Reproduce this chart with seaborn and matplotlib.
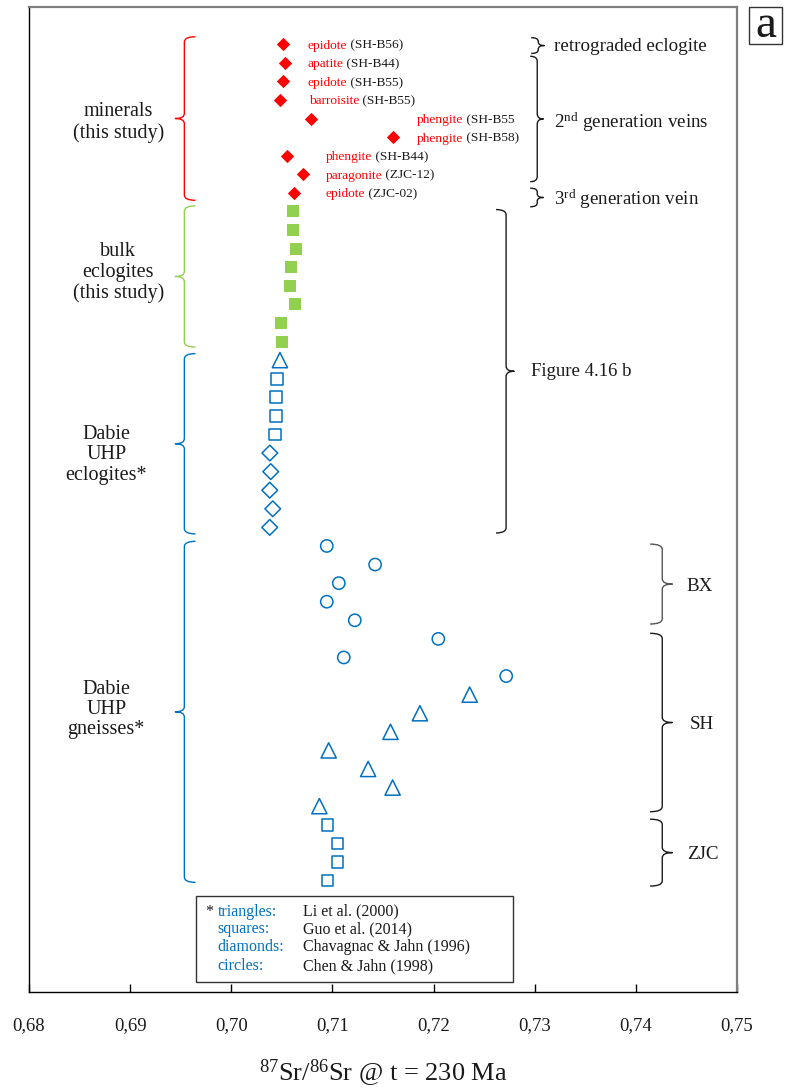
import numpy as np
import pandas as pd
import matplotlib
matplotlib.use("Agg")
import matplotlib.pyplot as plt
from matplotlib.path import Path
from matplotlib.patches import PathPatch, Rectangle
import seaborn as sns

# ---------------- data: 87Sr/86Sr (t = 230 Ma), listed top to bottom ----------------
mineral_names = ["epidote", "apatite", "epidote", "barroisite", "phengite",
                 "phengite", "phengite", "paragonite", "epidote"]
mineral_samples = ["(SH-B56)", "(SH-B44)", "(SH-B55)", "(SH-B55)", "(SH-B55",
                   "(SH-B58)", "(SH-B44)", "(ZJC-12)", "(ZJC-02)"]
mineral_sr = [0.7051, 0.7053, 0.7051, 0.70485, 0.70788, 0.71595, 0.7055, 0.70706, 0.7062]

bulk_sr = [0.7061, 0.7061, 0.7064, 0.7059, 0.7058, 0.7063, 0.7049, 0.7050]

ecl_triangle_sr = [0.70481]
ecl_square_sr = [0.70451, 0.7044, 0.7044, 0.7043]
ecl_diamond_sr = [0.70381, 0.7039, 0.7038, 0.7041, 0.7038]

gn_circle_sr = [0.70944, 0.71422, 0.71063, 0.70944, 0.71221, 0.72047, 0.71112, 0.72718]
gn_triangle_sr = [0.72357, 0.71865, 0.71574, 0.70963, 0.71353, 0.71595, 0.70871]
gn_square_sr = [0.70953, 0.71052, 0.71052, 0.70953]

x_ticks = [0.68, 0.69, 0.70, 0.71, 0.72, 0.73, 0.74, 0.75]
x_tick_labels = ["0,68", "0,69", "0,70", "0,71", "0,72", "0,73", "0,74", "0,75"]

legend_shapes = ["triangles:", "squares:", "diamonds:", "circles:"]
legend_refs = ["Li et al. (2000)", "Guo et al. (2014)",
               "Chavagnac & Jahn (1996)", "Chen & Jahn (1998)"]

# ---------------- styling ----------------
RED = "#FF0000"
GREEN = "#92D050"
BLUE = "#0070C0"
INK = "#1a1a1a"

sns.set_style("white")
plt.rcParams["font.family"] = ["Liberation Serif", "DejaVu Serif"]
plt.rcParams["mathtext.fontset"] = "custom"
plt.rcParams["mathtext.rm"] = "Liberation Serif"
plt.rcParams["mathtext.it"] = "Liberation Serif:italic"

# one row per measurement, stacked downward
groups = [
    ("minerals", mineral_sr), ("bulk", bulk_sr),
    ("ecl_tri", ecl_triangle_sr), ("ecl_sq", ecl_square_sr), ("ecl_dia", ecl_diamond_sr),
    ("gn_circ", gn_circle_sr), ("gn_tri", gn_triangle_sr), ("gn_sq", gn_square_sr),
]
records = []
row = 0
for name, vals in groups:
    for v in vals:
        records.append({"group": name, "sr": v, "row": row})
        row += 1
df = pd.DataFrame(records)

fig = plt.figure(figsize=(7.9, 10.88), dpi=100)
ax = fig.add_axes([29 / 790, 1 - 992 / 1088, 708 / 790, 985 / 1088])

styles = {
    "minerals": dict(marker="D", s=46, color=RED, edgecolor=RED, linewidth=0),
    "bulk": dict(marker="s", s=64, color=GREEN, edgecolor=GREEN, linewidth=0),
    "ecl_tri": dict(marker="^", s=120, facecolor="none", edgecolor=BLUE, linewidth=1.1),
    "ecl_sq": dict(marker="s", s=70, facecolor="none", edgecolor=BLUE, linewidth=1.1),
    "ecl_dia": dict(marker="D", s=64, facecolor="none", edgecolor=BLUE, linewidth=1.1),
    "gn_circ": dict(marker="o", s=78, facecolor="none", edgecolor=BLUE, linewidth=1.1),
    "gn_tri": dict(marker="^", s=120, facecolor="none", edgecolor=BLUE, linewidth=1.1),
    "gn_sq": dict(marker="s", s=70, facecolor="none", edgecolor=BLUE, linewidth=1.1),
}
for name, _ in groups:
    sub = df[df["group"] == name]
    sns.scatterplot(data=sub, x="sr", y="row", ax=ax, legend=False, zorder=3, **styles[name])

ax.set_xlim(0.68, 0.75)
ax.set_ylim(51, -2)
ax.set_yticks([])
ax.set_ylabel("")
ax.set_xticks(x_ticks)
ax.set_xticklabels(x_tick_labels, fontsize=13.5, color=INK)
ax.tick_params(axis="x", direction="in", length=6, width=1, color="black", pad=18, bottom=True)
ax.set_xlabel(r"$^{87}$Sr/$^{86}$Sr @ t = 230 Ma", fontsize=19, color=INK)
ax.xaxis.set_label_coords(0.5, -(1073 - 992) / 985)
ax.xaxis.label.set_va("center")

for side in ["left", "bottom"]:
    ax.spines[side].set_color("black")
    ax.spines[side].set_linewidth(1.0)
for side in ["top", "right"]:
    ax.spines[side].set_color("#7f7f7f")
    ax.spines[side].set_linewidth(1.6)
    ax.spines[side].set_visible(True)

# ---------------- mineral labels (name in red, sample in black) ----------------
label_x = [0.70752, 0.70752, 0.70752, 0.70765, 0.71832, 0.71832, 0.70931, 0.70931, 0.70931]
for i, (nm, smp) in enumerate(zip(mineral_names, mineral_samples)):
    y = i + 0.24
    t = ax.text(label_x[i], y, nm, color=RED, fontsize=9.6, va="baseline", ha="left")
    ax.annotate(" " + smp, xy=(1, y), xycoords=(t, "data"), color=INK,
                fontsize=9.6, va="baseline", ha="left")


# ---------------- curly braces ----------------
def brace(x_v, y0, y1, arm, tip, color, lw=1.0, r=0.28):
    ym = (y0 + y1) / 2
    verts = [(x_v + arm, y0), (x_v, y0), (x_v, y0 + r),
             (x_v, ym - r),
             (x_v, ym), (x_v + tip, ym),
             (x_v, ym), (x_v, ym + r),
             (x_v, y1 - r),
             (x_v, y1), (x_v + arm, y1)]
    codes = [Path.MOVETO, Path.CURVE3, Path.CURVE3,
             Path.LINETO,
             Path.CURVE3, Path.CURVE3,
             Path.CURVE3, Path.CURVE3,
             Path.LINETO,
             Path.CURVE3, Path.CURVE3]
    ax.add_patch(PathPatch(Path(verts, codes), facecolor="none", edgecolor=color,
                           lw=lw, capstyle="butt", joinstyle="round"))


# left-hand group braces
brace(0.69536, -0.4, 8.4, 0.0011, -0.0009, RED)
brace(0.69536, 8.7, 16.3, 0.0011, -0.0009, GREEN)
brace(0.69536, 16.65, 26.35, 0.0011, -0.0009, BLUE)
brace(0.69536, 26.75, 45.1, 0.0011, -0.0009, BLUE)

group_text = dict(fontsize=14.5, ha="center", va="center", multialignment="center",
                  linespacing=1.1, color=INK)
ax.text(0.68882, 4.2, "minerals\n(this study)", linespacing=1.18,
        **{k: v for k, v in group_text.items() if k != "linespacing"})
ax.text(0.68882, 12.3, "bulk\neclogites\n(this study)", **group_text)
ax.text(0.68763, 22.1, "Dabie\nUHP\neclogites*", **group_text)
ax.text(0.68763, 35.8, "Dabie\nUHP\ngneisses*", **group_text)

# right-hand braces
side_text = dict(fontsize=13.7, ha="left", va="center", color=INK)
brace(0.73035, -0.35, 0.5, -0.0007, 0.0006, INK, r=0.2)
ax.text(0.73193, 0.1, "retrograded eclogite", **side_text)
brace(0.73025, 0.65, 7.4, -0.0007, 0.0006, INK)
ax.text(0.73193, 4.2, r"2$^{\mathrm{nd}}$ generation veins", **side_text)
brace(0.73025, 7.75, 8.75, -0.0007, 0.0006, INK, r=0.2)
ax.text(0.73193, 8.35, r"3$^{\mathrm{rd}}$ generation vein", **side_text)
brace(0.72717, 8.9, 26.3, -0.001, 0.0008, INK)
ax.text(0.72965, 17.6, "Figure 4.16 b", fontsize=13.5, ha="left", va="center", color=INK)
brace(0.74261, 26.9, 31.2, -0.0012, 0.001, "#555555")
ax.text(0.74502, 29.2, "BX", **side_text)
brace(0.74261, 31.7, 41.3, -0.0012, 0.001, INK)
ax.text(0.74531, 36.6, "SH", **side_text)
brace(0.74261, 41.7, 45.3, -0.0012, 0.001, INK)
ax.text(0.74502, 43.6, "ZJC", **side_text)

# ---------------- reference key ----------------
ax.add_patch(Rectangle((0.69655, 45.86), 0.72787 - 0.69655, 50.48 - 45.86,
                       facecolor="white", edgecolor="#333333", lw=1.0, zorder=4))
key_rows = [46.67, 47.63, 48.6, 49.62]
ax.text(0.69744, key_rows[0], "*", fontsize=11.5, ha="left", va="center", color=INK, zorder=5)
for yk, shp, ref in zip(key_rows, legend_shapes, legend_refs):
    ax.text(0.69863, yk, shp, fontsize=11.5, ha="left", va="center", color=BLUE, zorder=5)
    ax.text(0.70706, yk, ref, fontsize=11.5, ha="left", va="center", color=INK, zorder=5)

# ---------------- panel letter ----------------
fig.patches.append(Rectangle((749 / 790, 1 - 44 / 1088), 33 / 790, 37 / 1088,
                             transform=fig.transFigure, facecolor="white",
                             edgecolor="#333333", lw=1.0))
fig.text(765.5 / 790, 1 - 26 / 1088, "a", fontsize=34, ha="center", va="center", color=INK)

fig.savefig("out.png", dpi=100)
